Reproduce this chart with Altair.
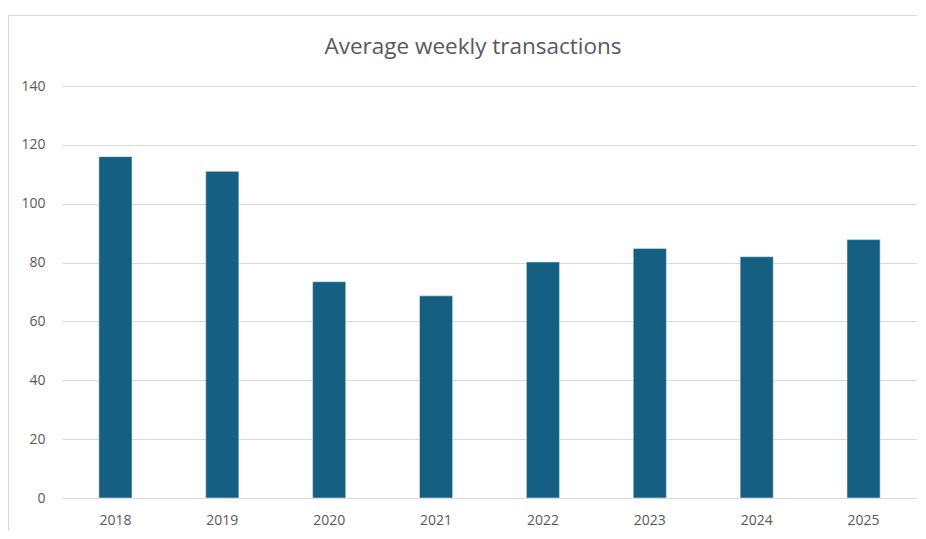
import altair as alt
import pandas as pd

years = ["2018", "2019", "2020", "2021", "2022", "2023", "2024", "2025"]
values = [116, 111, 73.5, 68.7, 80.2, 84.8, 82, 87.8]
y_ticks = [0, 20, 40, 60, 80, 100, 120, 140]
title_text = "Average weekly transactions"

df = pd.DataFrame({"year": years, "value": values})

FONT = "Open Sans"
GRAY = "#595959"

one = alt.Data(values=[{"t": title_text}])

frame = alt.Chart(one).mark_rect(
    fill=None, stroke="#d9d9d9", strokeWidth=1
).encode(
    x=alt.value(-53.5), x2=alt.value(900),
    y=alt.value(-70.5), y2=alt.value(520)
)

title = alt.Chart(one).mark_text(
    font=FONT, fontSize=22.5, color=GRAY, align="center", baseline="middle"
).encode(
    x=alt.value(411), y=alt.value(-39), text="t:N"
)

bars = alt.Chart(df).mark_bar(
    color="#156082", stroke="#dbe6ee", strokeWidth=0.6
).encode(
    x=alt.X("year:N", sort=years, title=None,
            scale=alt.Scale(paddingInner=0.69, paddingOuter=0.345),
            axis=alt.Axis(labelAngle=0, labelFont=FONT, labelFontSize=14,
                          labelColor=GRAY, labelPadding=15, ticks=False,
                          domain=False, grid=False)),
    y=alt.Y("value:Q", title=None,
            scale=alt.Scale(domain=[0, 140], nice=False),
            axis=alt.Axis(values=y_ticks, labelFont=FONT, labelFontSize=14,
                          labelColor=GRAY, labelPadding=17, ticks=False,
                          domain=False, grid=True, gridColor="#d9d9d9",
                          gridWidth=1))
)

chart = alt.layer(frame, bars, title).properties(
    width=855, height=412,
    autosize=alt.AutoSizeParams(type="none"),
    padding={"left": 54, "top": 78, "right": 0, "bottom": 33},
).configure_view(stroke=None)

chart.save("out.html", embed_options={"renderer": "svg", "actions": False})
